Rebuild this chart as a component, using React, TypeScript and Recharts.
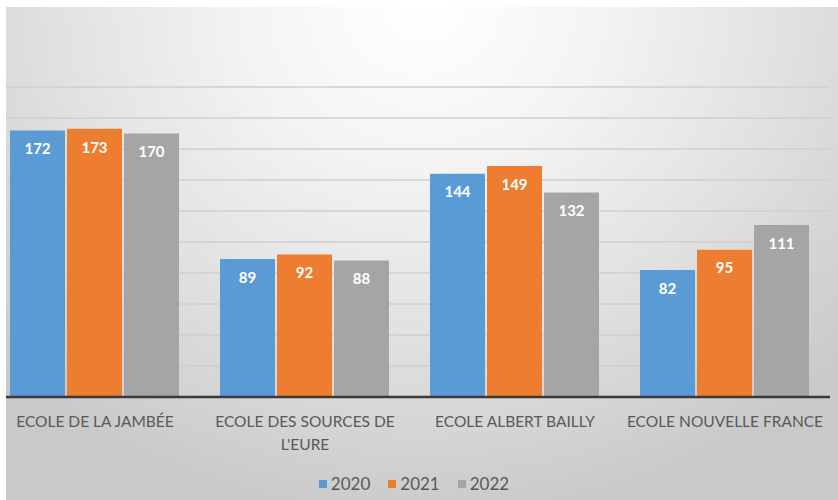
import React from "react";
import { BarChart, Bar, XAxis, YAxis, CartesianGrid, Legend, LabelList, Text } from "recharts";

const categories = [
  "ECOLE DE LA JAMBÉE",
  "ECOLE DES SOURCES DE L'EURE",
  "ECOLE ALBERT BAILLY",
  "ECOLE NOUVELLE FRANCE",
];
const values2020 = [172, 89, 144, 82];
const values2021 = [173, 92, 149, 95];
const values2022 = [170, 88, 132, 111];
const yTicks = [0, 20, 40, 60, 80, 100, 120, 140, 160, 180, 200];

const seriesNames = ["2020", "2021", "2022"];
const colors = ["#5b9bd5", "#ed7d31", "#a5a5a5"];

const data = categories.map((name, i) => ({
  name,
  "2020": values2020[i],
  "2021": values2021[i],
  "2022": values2022[i],
}));

const FONT = "Lato, 'Open Sans', sans-serif";

const CategoryTick = (props: any) => {
  const { x, y, payload } = props;
  return (
    <Text
      x={x}
      y={y + 11}
      width={205}
      textAnchor="middle"
      verticalAnchor="start"
      lineHeight={23}
      fill="#595959"
      style={{ fontFamily: FONT, fontSize: 15.5 }}
    >
      {payload.value}
    </Text>
  );
};

const LegendContent = () => (
  <div
    style={{
      display: "flex",
      justifyContent: "center",
      alignItems: "center",
      fontFamily: FONT,
      fontSize: 17,
      color: "#595959",
    }}
  >
    {seriesNames.map((s, i) => (
      <div key={s} style={{ display: "flex", alignItems: "center", margin: "0 9px" }}>
        <span
          style={{
            display: "inline-block",
            width: 8,
            height: 8,
            background: colors[i],
            marginRight: 4,
          }}
        />
        <span>{s}</span>
      </div>
    ))}
  </div>
);

export default function App() {
  return (
    <div
      style={{
        position: "absolute",
        left: 0,
        top: 0,
        width: 838,
        height: 500,
        overflow: "hidden",
        background: "#ffffff",
      }}
    >
      <div
        style={{
          position: "absolute",
          left: 6,
          top: 7,
          width: 832,
          height: 493,
          background:
            "radial-gradient(ellipse 70% 105% at 50% 0%, #ffffff 0%, #f4f4f4 30%, #e0e0e0 65%, #c9c9c9 100%)",
        }}
      />
      <div style={{ position: "absolute", left: -10, top: 0 }}>
        <BarChart
          width={848}
          height={500}
          data={data}
          margin={{ top: 87, right: 8, bottom: 73, left: 0 }}
          barCategoryGap={20}
          barGap={2}
        >
          <CartesianGrid vertical={false} stroke="#cfcfcf" strokeWidth={1.5} />
          <YAxis hide domain={[0, 200]} ticks={yTicks} />
          <XAxis
            dataKey="name"
            height={30}
            axisLine={{ stroke: "#3a3a3a", strokeWidth: 2.5 }}
            tickLine={false}
            interval={0}
            tick={<CategoryTick />}
          />
          <Legend
            layout="horizontal"
            verticalAlign="middle"
            align="center"
            content={<LegendContent />}
            wrapperStyle={{ top: 473, left: 0, width: 848 }}
          />
          {seriesNames.map((s, i) => (
            <Bar key={s} dataKey={s} fill={colors[i]} isAnimationActive={false}>
              <LabelList
                dataKey={s}
                position="insideTop"
                offset={13}
                fill="#ffffff"
                style={{ fontFamily: FONT, fontSize: 15, fontWeight: 700 }}
              />
            </Bar>
          ))}
        </BarChart>
      </div>
      <div style={{ position: "absolute", left: 0, top: 0, width: 6, height: 500, background: "#ffffff" }} />
    </div>
  );
}
